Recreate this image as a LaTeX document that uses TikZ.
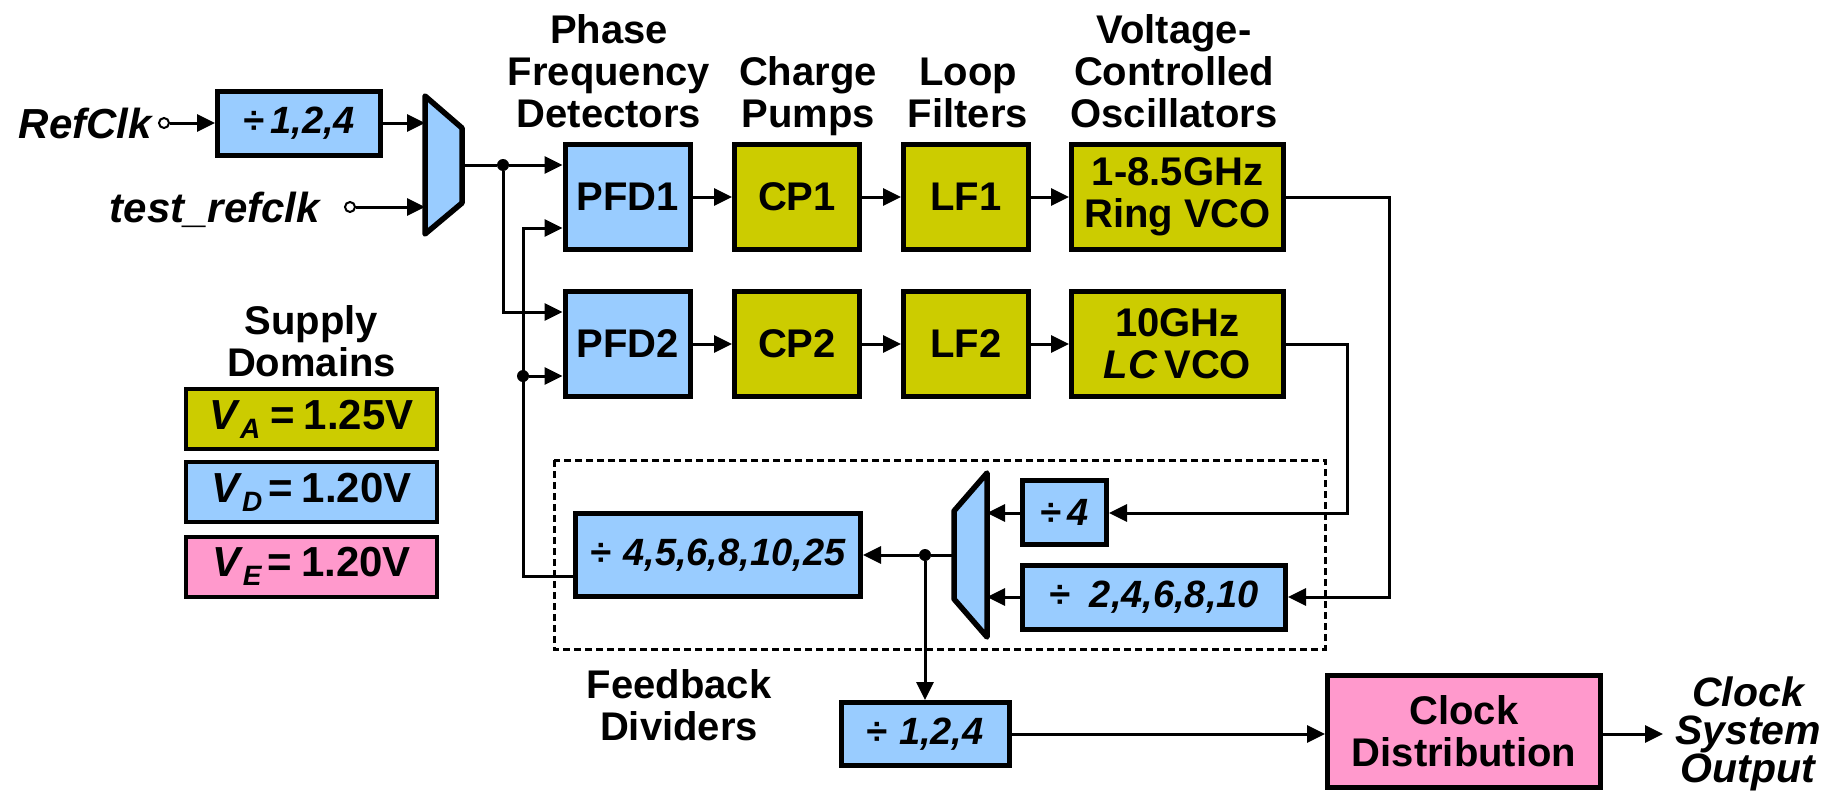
\documentclass[tikz,border=0pt]{standalone}
\usepackage{fontspec}
\setmainfont{Liberation Sans}
\usetikzlibrary{arrows.meta}
\definecolor{cblue}{RGB}{153,204,255}
\definecolor{cyel}{RGB}{204,204,0}
\definecolor{cpink}{RGB}{255,153,204}
\begin{document}
\begin{tikzpicture}[x=1pt,y=-1pt,
  blk/.style={draw, line width=5pt, inner sep=0pt, align=center, font=\bfseries\fontsize{40}{42}\selectfont},
  bl/.style={blk, fill=cblue},
  yl/.style={blk, fill=cyel},
  pk/.style={blk, fill=cpink},
  dv/.style={bl, font=\bfseries\itshape\fontsize{38}{40}\selectfont},
  sup/.style={draw, line width=4pt, inner sep=0pt, minimum width=251pt, minimum height=60pt, font=\bfseries\fontsize{42}{44}\selectfont},
  wire/.style={line width=3pt},
  arr/.style={wire, -{Triangle[length=18pt,width=17pt]}},
  lbl/.style={font=\bfseries\fontsize{40}{42}\selectfont, align=center, inner sep=0pt},
  ilbl/.style={font=\bfseries\itshape\fontsize{42}{42}\selectfont, align=center, inner sep=0pt},
  port/.style={circle, draw, line width=2pt, fill=white, minimum size=10pt, inner sep=0pt},
  dotn/.style={circle, fill=black, minimum size=12pt, inner sep=0pt},
  mux/.style={draw, line width=5.5pt, fill=cblue, line join=round},
  fbbox/.style={draw, line width=3pt, dash pattern=on 7pt off 4pt}
]
\useasboundingbox (0,0) rectangle (1841,798);

% headers (anchor=base is the last line's baseline)
\node[lbl, anchor=base] (hpfd) at (609,127) {Phase\\Frequency\\Detectors};
\node[lbl, anchor=base] (hcp) at (808,127) {Charge\\Pumps};
\node[lbl, anchor=base] (hlf) at (968,127) {Loop\\Filters};
\node[lbl, anchor=base] (hvco) at (1174,127) {Voltage-\\Controlled\\Oscillators};

% inputs
\node[ilbl, anchor=base east] (trc) at (152,138) {RefClk};
\node[ilbl, anchor=base east] (ttr) at (320,222) {test\_refclk};
\node[port] (rc) at (164,123) {};
\node[port] (tr) at (350,207) {};
\node[dv, minimum width=163pt, minimum height=64pt] (div1) at (299,123) {÷\,1,2,4};

% mux 1
\draw[mux] (425,96) -- (462,128) -- (462,203) -- (425,234) -- cycle;
\coordinate (m1a) at (425,123);
\coordinate (m1b) at (425,207);
\coordinate (m1o) at (462,165);

% row 1
\node[bl, minimum width=125pt, minimum height=105pt] (pfd1) at (627.5,197) {PFD1};
\node[yl, minimum width=125pt, minimum height=105pt] (cp1) at (797,197) {CP1};
\node[yl, minimum width=125pt, minimum height=105pt] (lf1) at (966,197) {LF1};
\node[yl, minimum width=212pt, minimum height=105pt] (vco1) at (1177.5,197) {1-8.5GHz\\Ring VCO};
% row 2
\node[bl, minimum width=125pt, minimum height=105pt] (pfd2) at (627.5,344) {PFD2};
\node[yl, minimum width=125pt, minimum height=105pt] (cp2) at (797,344) {CP2};
\node[yl, minimum width=125pt, minimum height=105pt] (lf2) at (966,344) {LF2};
\node[yl, minimum width=212pt, minimum height=105pt] (vco2) at (1177.5,344) {10GHz\\\textit{LC}\,VCO};

% supply domains
\node[lbl, anchor=base] (hsup) at (311.5,376) {Supply\\Domains};
\node[sup, fill=cyel] (va) at (311.5,419) {\textit{V}\raisebox{-9pt}{\fontsize{28}{28}\selectfont\itshape A}\hspace{10pt}=\hspace{9pt}1.25V};
\node[sup, fill=cblue] (vd) at (311.5,492) {\textit{V}\raisebox{-9pt}{\fontsize{28}{28}\selectfont\itshape D}\hspace{6pt}=\hspace{9pt}1.20V};
\node[sup, fill=cpink] (ve) at (311.5,566.5) {\textit{V}\raisebox{-9pt}{\fontsize{28}{28}\selectfont\itshape E}\hspace{6pt}=\hspace{9pt}1.20V};

% feedback dividers
\draw[fbbox] (554,460) rectangle (1325,649);
\node[dv, minimum width=285pt, minimum height=83pt] (div25) at (718,555) {÷\hspace{12pt}4,5,6,8,10,25};
\node[dv, minimum width=84pt, minimum height=64pt] (div4) at (1064.5,512.5) {÷\,4};
\node[dv, minimum width=263pt, minimum height=64pt] (div10) at (1154,597) {÷\hspace{20pt}2,4,6,8,10};
\draw[mux] (987,473) -- (987,637) -- (954,599) -- (954,511) -- cycle;
\coordinate (m2a) at (987,513);
\coordinate (m2b) at (987,597);
\coordinate (m2o) at (954,555);
\node[lbl, anchor=base] (hfb) at (679,740) {Feedback\\Dividers};

% output path
\node[dv, minimum width=168pt, minimum height=63pt] (div124) at (925,734) {÷\hspace{12pt}1,2,4};
\node[pk, minimum width=273pt, minimum height=112pt] (clkd) at (1464,731.5) {Clock\\Distribution};
\coordinate (out) at (1663,734);
\node[ilbl, anchor=base, font=\bfseries\itshape\fontsize{41}{38}\selectfont] (tout) at (1748,782) {Clock\\System\\Output};

% dots
\node[dotn] (d1) at (503,165) {};
\node[dotn] (d2) at (523,376) {};
\node[dotn] (d3) at (925,555) {};
\coordinate (fbc) at (523,228);
\coordinate (c1) at (1389,597);
\coordinate (c2) at (1347,513);

% wires
\draw[arr] (rc) -- (div1.west |- rc);
\draw[arr] (div1.east |- m1a) -- (m1a);
\draw[arr] (tr) -- (m1b);
\draw[wire] (m1o) -- (d1);
\draw[arr] (d1) -- (pfd1.west |- d1);
\draw[arr] (d1) |- ([yshift=32pt]pfd2.west);
\draw[arr] ([yshift=-21pt]div25.west) -| (fbc) -- ([yshift=-31pt]pfd1.west);
\draw[arr] (d2) -- ([yshift=-32pt]pfd2.west);
\draw[arr] (pfd1) -- (cp1);
\draw[arr] (cp1) -- (lf1);
\draw[arr] (lf1) -- (vco1);
\draw[arr] (pfd2) -- (cp2);
\draw[arr] (cp2) -- (lf2);
\draw[arr] (lf2) -- (vco2);
\draw[arr] (vco1.east) -| (c1) -- (div10.east |- c1);
\draw[arr] (vco2.east) -| (c2) -- (div4.east |- c2);
\draw[arr] (div4.west |- m2a) -- (m2a);
\draw[arr] (div10.west |- m2b) -- (m2b);
\draw[wire] (m2o) -- (d3);
\draw[arr] (d3) -- (div25.east |- d3);
\draw[arr] (d3) -- (div124.north);
\draw[arr] (div124.east) -- (div124.east -| clkd.west);
\draw[arr] (clkd.east |- out) -- (out);
\end{tikzpicture}
\end{document}
